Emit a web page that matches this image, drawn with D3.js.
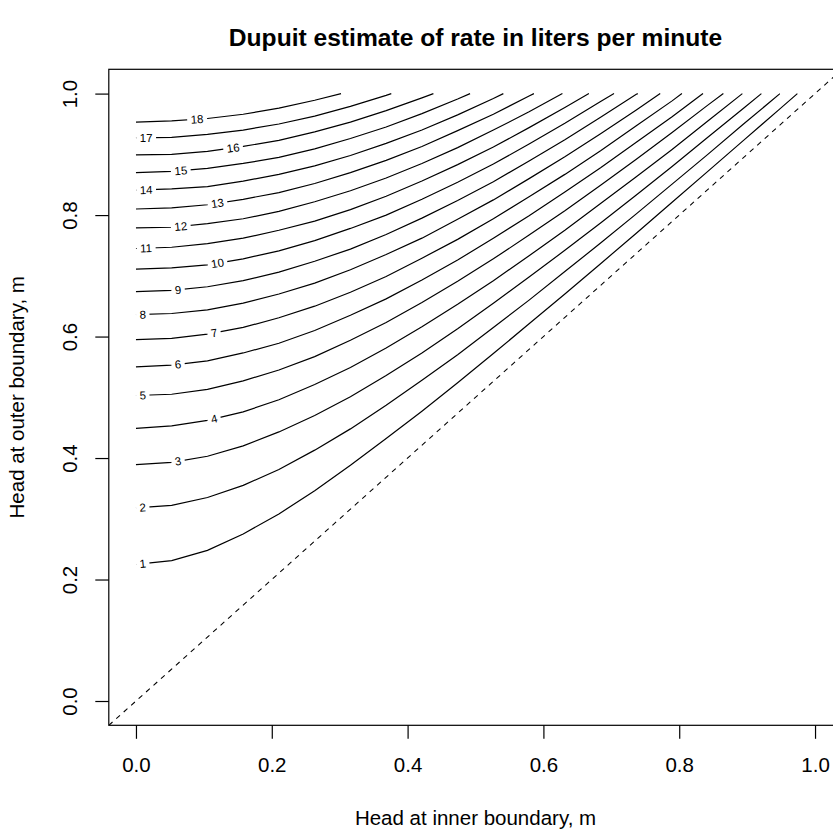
<html lang="en">
<head>
  <meta charset="UTF-8">
  <title>dupuit</title>
  <style>
    body {
      margin: 0;
      background-color: #fff;
    }

    text {
      font-family: 'Liberation Sans', Arial, Helvetica, sans-serif;
      fill: #000;
    }

    .title {
      font-size: 24.6px;
      font-weight: bold;
      text-anchor: middle;
    }

    .axis-label {
      font-size: 20.5px;
      text-anchor: middle;
    }

    .tick text {
      font-size: 20.5px;
    }

    .contour {
      fill: none;
      stroke: #000;
      stroke-width: 1.2;
    }

    .diagonal {
      stroke: #000;
      stroke-width: 1.1;
      stroke-dasharray: 5,5;
    }

    .contour-label {
      font-size: 11.5px;
      text-anchor: middle;
    }
  </style>
</head>
<body>
  <script src="https://d3js.org/d3.v7.min.js"></script>
  <script>
    // contour levels (liters per minute)
    var levels = [1, 2, 3, 4, 5, 6, 7, 8, 9, 10, 11, 12, 13, 14, 15, 16, 17, 18];

    var gridX = [0, 0.0526, 0.1053, 0.1579, 0.2105, 0.2632, 0.3158, 0.3684, 0.4211, 0.4737,
      0.5263, 0.5789, 0.6316, 0.6842, 0.7368, 0.7895, 0.8421, 0.8947, 0.9474];

    // outer head of each contour at the gridX values
    var lineY = [
      [0.225, 0.231, 0.248, 0.275, 0.308, 0.346, 0.388, 0.432, 0.477, 0.524, 0.572, 0.621, 0.670, 0.720, 0.770, 0.821, 0.872, 0.923, 0.974],
      [0.318, 0.322, 0.335, 0.355, 0.381, 0.413, 0.448, 0.487, 0.528, 0.570, 0.615, 0.660, 0.707, 0.754, 0.802, 0.851, 0.900, 0.950, 0.999],
      [0.389, 0.393, 0.403, 0.420, 0.443, 0.470, 0.501, 0.536, 0.573, 0.613, 0.655, 0.698, 0.742, 0.787, 0.833, 0.880, 0.928, 0.976],
      [0.449, 0.453, 0.462, 0.476, 0.496, 0.521, 0.549, 0.581, 0.616, 0.653, 0.692, 0.733, 0.775, 0.819, 0.863, 0.908, 0.955],
      [0.503, 0.505, 0.513, 0.527, 0.545, 0.567, 0.594, 0.623, 0.656, 0.691, 0.728, 0.767, 0.807, 0.849, 0.892, 0.936, 0.981],
      [0.550, 0.553, 0.560, 0.573, 0.589, 0.610, 0.635, 0.662, 0.693, 0.726, 0.762, 0.799, 0.838, 0.878, 0.920, 0.962],
      [0.595, 0.597, 0.604, 0.615, 0.631, 0.650, 0.673, 0.699, 0.729, 0.760, 0.794, 0.830, 0.867, 0.906, 0.947, 0.988],
      [0.636, 0.638, 0.644, 0.655, 0.670, 0.688, 0.710, 0.735, 0.762, 0.793, 0.825, 0.860, 0.896, 0.934, 0.973],
      [0.674, 0.676, 0.682, 0.692, 0.706, 0.724, 0.744, 0.768, 0.795, 0.824, 0.855, 0.889, 0.924, 0.961, 0.999],
      [0.711, 0.713, 0.718, 0.728, 0.741, 0.758, 0.778, 0.800, 0.826, 0.854, 0.884, 0.917, 0.951, 0.987],
      [0.745, 0.747, 0.753, 0.762, 0.775, 0.790, 0.809, 0.831, 0.856, 0.883, 0.912, 0.944, 0.977],
      [0.779, 0.780, 0.786, 0.794, 0.806, 0.822, 0.840, 0.861, 0.885, 0.911, 0.940, 0.970],
      [0.810, 0.812, 0.817, 0.826, 0.837, 0.852, 0.870, 0.890, 0.913, 0.939, 0.966, 0.996],
      [0.841, 0.843, 0.847, 0.856, 0.867, 0.881, 0.898, 0.918, 0.940, 0.965, 0.992],
      [0.870, 0.872, 0.877, 0.885, 0.895, 0.909, 0.926, 0.945, 0.967, 0.991],
      [0.899, 0.900, 0.905, 0.913, 0.923, 0.937, 0.953, 0.972, 0.993],
      [0.927, 0.928, 0.933, 0.940, 0.950, 0.963, 0.979, 0.997],
      [0.953, 0.955, 0.959, 0.966, 0.976, 0.989]
    ];

    // inner head where each contour runs into outer head = 1
    var endX = [0.974, 0.948, 0.921, 0.893, 0.865, 0.835, 0.804, 0.772, 0.739, 0.704,
      0.667, 0.628, 0.586, 0.541, 0.492, 0.438, 0.376, 0.302];

    // where the level labels sit along each line (inner head)
    var labelX = [0.010, 0.010, 0.062, 0.115, 0.010, 0.062, 0.115, 0.010, 0.062, 0.120,
      0.015, 0.066, 0.120, 0.015, 0.066, 0.143, 0.015, 0.090];

    var xTicks = [0, 0.2, 0.4, 0.6, 0.8, 1.0];
    var yTicks = [0, 0.2, 0.4, 0.6, 0.8, 1.0];

    var width = 833,
      height = 829;

    var svg = d3.select('body').append('svg')
      .attr('width', width)
      .attr('height', height);

    var x = d3.scaleLinear().domain([-0.04, 1.04]).range([108.8, 842.2]);
    var y = d3.scaleLinear().domain([-0.04, 1.04]).range([725.3, 69.3]);

    svg.append('clipPath')
      .attr('id', 'plot-clip')
      .append('rect')
      .attr('x', x.range()[0])
      .attr('y', y.range()[1])
      .attr('width', x.range()[1] - x.range()[0])
      .attr('height', y.range()[0] - y.range()[1]);

    var plot = svg.append('g').attr('clip-path', 'url(#plot-clip)');

    // y = x reference line
    plot.append('line')
      .attr('class', 'diagonal')
      .attr('x1', x(x.domain()[0]))
      .attr('y1', y(y.domain()[0]))
      .attr('x2', x(x.domain()[1]))
      .attr('y2', y(y.domain()[1]));

    var line = d3.line()
      .x(function(d) { return x(d[0]); })
      .y(function(d) { return y(d[1]); });

    var contours = levels.map(function(lev, i) {
      var pts = lineY[i].map(function(v, k) { return [gridX[k], v]; });
      pts.push([endX[i], 1]);
      return { level: lev, points: pts, lx: labelX[i] };
    });

    plot.selectAll('.contour')
      .data(contours)
      .enter().append('path')
      .attr('class', 'contour')
      .attr('d', function(d) { return line(d.points); });

    // label position + angle along the line
    function labelPos(d) {
      var p = d.points, k = 0;
      while (k < p.length - 2 && p[k + 1][0] < d.lx) k++;
      var x1 = x(p[k][0]), y1 = y(p[k][1]), x2 = x(p[k + 1][0]), y2 = y(p[k + 1][1]);
      var t = (x(d.lx) - x1) / (x2 - x1);
      return {
        x: x1 + t * (x2 - x1),
        y: y1 + t * (y2 - y1),
        angle: Math.atan2(y2 - y1, x2 - x1) * 180 / Math.PI
      };
    }

    var labels = plot.selectAll('.contour-label-g')
      .data(contours)
      .enter().append('g')
      .attr('class', 'contour-label-g')
      .attr('transform', function(d) {
        var p = labelPos(d);
        return 'translate(' + p.x + ',' + p.y + ') rotate(' + p.angle + ')';
      });

    labels.append('rect')
      .attr('fill', '#fff');

    labels.append('text')
      .attr('class', 'contour-label')
      .attr('dy', '0.36em')
      .text(function(d) { return d.level; });

    labels.each(function() {
      var g = d3.select(this);
      var w = g.select('text').node().getComputedTextLength() + 7;
      g.select('rect')
        .attr('x', -w / 2)
        .attr('y', -6)
        .attr('width', w)
        .attr('height', 12);
    });

    // frame
    svg.append('rect')
      .attr('x', x.range()[0])
      .attr('y', y.range()[1])
      .attr('width', x.range()[1] - x.range()[0])
      .attr('height', y.range()[0] - y.range()[1])
      .attr('fill', 'none')
      .attr('stroke', '#000')
      .attr('stroke-width', 1.2);

    var xAxis = svg.append('g')
      .attr('transform', 'translate(0,' + y.range()[0] + ')')
      .call(d3.axisBottom(x).tickValues(xTicks).tickSize(13.5).tickFormat(d3.format('.1f')));
    xAxis.select('.domain').remove();
    xAxis.selectAll('.tick line').attr('stroke', '#000').attr('stroke-width', 1.2);
    xAxis.selectAll('.tick text')
      .attr('y', 47)
      .attr('dy', null)
      .attr('fill', '#000');

    var yAxis = svg.append('g')
      .attr('transform', 'translate(' + x.range()[0] + ',0)')
      .call(d3.axisLeft(y).tickValues(yTicks).tickSize(13.5).tickFormat(d3.format('.1f')));
    yAxis.select('.domain').remove();
    yAxis.selectAll('.tick line').attr('stroke', '#000').attr('stroke-width', 1.2);
    yAxis.selectAll('.tick text')
      .attr('x', null)
      .attr('dy', null)
      .attr('text-anchor', 'middle')
      .attr('transform', 'translate(-31.5,0) rotate(-90)')
      .attr('fill', '#000');

    svg.append('text')
      .attr('class', 'title')
      .attr('x', (x.range()[0] + x.range()[1]) / 2)
      .attr('y', 46)
      .text('Dupuit estimate of rate in liters per minute');

    svg.append('text')
      .attr('class', 'axis-label')
      .attr('x', (x.range()[0] + x.range()[1]) / 2)
      .attr('y', 825)
      .text('Head at inner boundary, m');

    svg.append('text')
      .attr('class', 'axis-label')
      .attr('transform', 'translate(24,' + (y.range()[0] + y.range()[1]) / 2 + ') rotate(-90)')
      .text('Head at outer boundary, m');
  </script>
</body>
</html>
